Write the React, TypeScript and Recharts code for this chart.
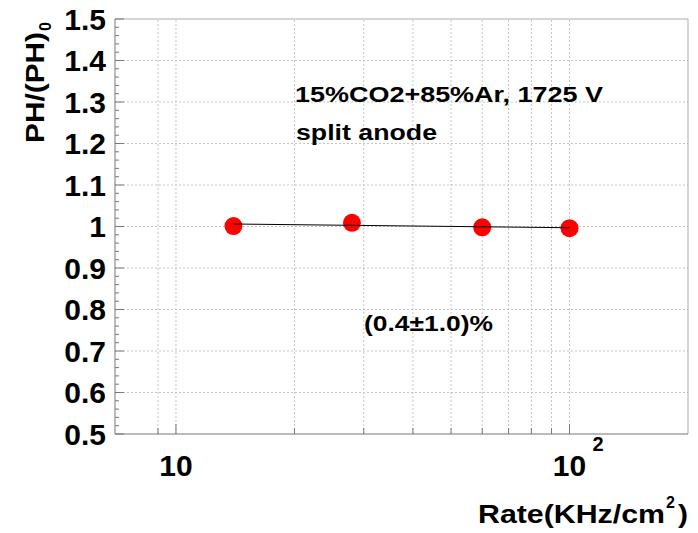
import { ComposedChart, Scatter, XAxis, YAxis, ReferenceLine } from 'recharts'

// measured pulse height ratio vs. rate
const rates = [14, 28, 60, 100]
const pulseHeight = [1.001, 1.009, 0.998, 0.996]

// straight-line fit drawn across the measured range
const fitRates = [14, 100]
const fitValues = [1.006, 0.997]

const xGridTicks = [9, 10, 20, 30, 40, 50, 60, 70, 80, 90, 100]
const yLabelTicks = [0.5, 0.6, 0.7, 0.8, 0.9, 1, 1.1, 1.2, 1.3, 1.4, 1.5]
const yGridTicks = [0.6, 0.7, 0.8, 0.9, 1, 1.1, 1.2, 1.3, 1.4]
// minor tick every 0.02
const yAllTicks = Array.from({ length: 51 }, (_, i) => Math.round((0.5 + i * 0.02) * 100) / 100)

const points = rates.map((rate, i) => ({ rate, ph: pulseHeight[i] }))
const fitLine = fitRates.map((rate, i) => ({ rate, ph: fitValues[i] }))

const FONT = '"Liberation Sans", Arial, Helvetica, sans-serif'
const AXIS = '#777'
const GRID = '#c4c4c4'

const XTick = (props: any) => {
      const { x, y, payload } = props
      const v = payload.value
      const major = v === 10 || v === 100
      return (
            <g>
                  <line x1={x} x2={x} y1={y} y2={y - (major ? 10 : 6)} stroke={AXIS} />
                  {major && (
                        <text x={x} y={y + 42} textAnchor="middle" fontSize={30} fontWeight="bold" fontFamily={FONT} fill="#000">
                              10
                        </text>
                  )}
                  {v === 100 && (
                        <text x={x + 23} y={y + 17} fontSize={20} fontWeight="bold" fontFamily={FONT} fill="#000">
                              2
                        </text>
                  )}
            </g>
      )
}

const YTick = (props: any) => {
      const { x, y, payload } = props
      const v = payload.value
      const major = Math.abs(v * 10 - Math.round(v * 10)) < 1e-6
      return (
            <g>
                  <line x1={x} x2={x + (major ? 9 : 4)} y1={y} y2={y} stroke={AXIS} />
                  {major && (
                        <text x={x - 9} y={y} dy="0.36em" textAnchor="end" fontSize={30} fontWeight="bold" fontFamily={FONT} fill="#000">
                              {v === 1 ? '1' : v.toFixed(1)}
                        </text>
                  )}
            </g>
      )
}

const Dot = (props: any) => <circle cx={props.cx} cy={props.cy} r={9} fill="#ff0000" />
const NoDot = () => <g />

export default function App() {
      return (
            <div style={{ position: 'absolute', left: 0, top: 0, width: 698, height: 533, background: '#fff' }}>
                  <ComposedChart width={698} height={533} margin={{ top: 19, right: 10, bottom: 0, left: 15 }}>
                        <XAxis
                              dataKey="rate"
                              type="number"
                              scale="log"
                              domain={[7, 200]}
                              allowDataOverflow
                              ticks={xGridTicks}
                              interval={0}
                              height={99}
                              tickSize={0}
                              tickMargin={0}
                              tick={<XTick />}
                              axisLine={{ stroke: AXIS }}
                        />
                        <YAxis
                              dataKey="ph"
                              type="number"
                              domain={[0.5, 1.5]}
                              allowDataOverflow
                              ticks={yAllTicks}
                              interval={0}
                              width={100}
                              tickSize={0}
                              tickMargin={0}
                              tick={<YTick />}
                              axisLine={{ stroke: AXIS }}
                        />
                        {yGridTicks.map((v) => (
                              <ReferenceLine key={`gy-${v}`} y={v} stroke={GRID} strokeDasharray="2 2" />
                        ))}
                        {xGridTicks.map((v) => (
                              <ReferenceLine key={`gx-${v}`} x={v} stroke={GRID} strokeDasharray="2 2" />
                        ))}
                        <ReferenceLine y={1.5} stroke="#aaa" />
                        <ReferenceLine x={200} stroke="#aaa" />
                        <Scatter data={points} dataKey="ph" shape={<Dot />} isAnimationActive={false} />
                        <Scatter data={fitLine} dataKey="ph" line={{ stroke: '#000', strokeWidth: 1 }} shape={<NoDot />} isAnimationActive={false} />
                  </ComposedChart>
                  <svg width={698} height={533} style={{ position: 'absolute', left: 0, top: 0, pointerEvents: 'none' }} fontFamily={FONT} fontWeight="bold" fill="#000">
                        <text x={295} y={101.5} fontSize={22} textLength={308} lengthAdjust="spacingAndGlyphs">
                              15%CO2+85%Ar, 1725 V
                        </text>
                        <text x={296} y={140} fontSize={22} textLength={141} lengthAdjust="spacingAndGlyphs">
                              split anode
                        </text>
                        <text x={364} y={331} fontSize={22} textLength={129} lengthAdjust="spacingAndGlyphs">
                              (0.4±1.0)%
                        </text>
                        <text x={478} y={523} fontSize={25} textLength={187} lengthAdjust="spacingAndGlyphs">
                              Rate(KHz/cm
                        </text>
                        <text x={666} y={508} fontSize={16}>
                              2
                        </text>
                        <text x={678} y={523} fontSize={25} textLength={10} lengthAdjust="spacingAndGlyphs">
                              )
                        </text>
                        <g transform="translate(44,143) rotate(-90)">
                              <text x={0} y={0} fontSize={26} textLength={111} lengthAdjust="spacingAndGlyphs">
                                    PH/(PH)
                              </text>
                              <text x={112} y={7} fontSize={16}>
                                    0
                              </text>
                        </g>
                  </svg>
            </div>
      )
}
